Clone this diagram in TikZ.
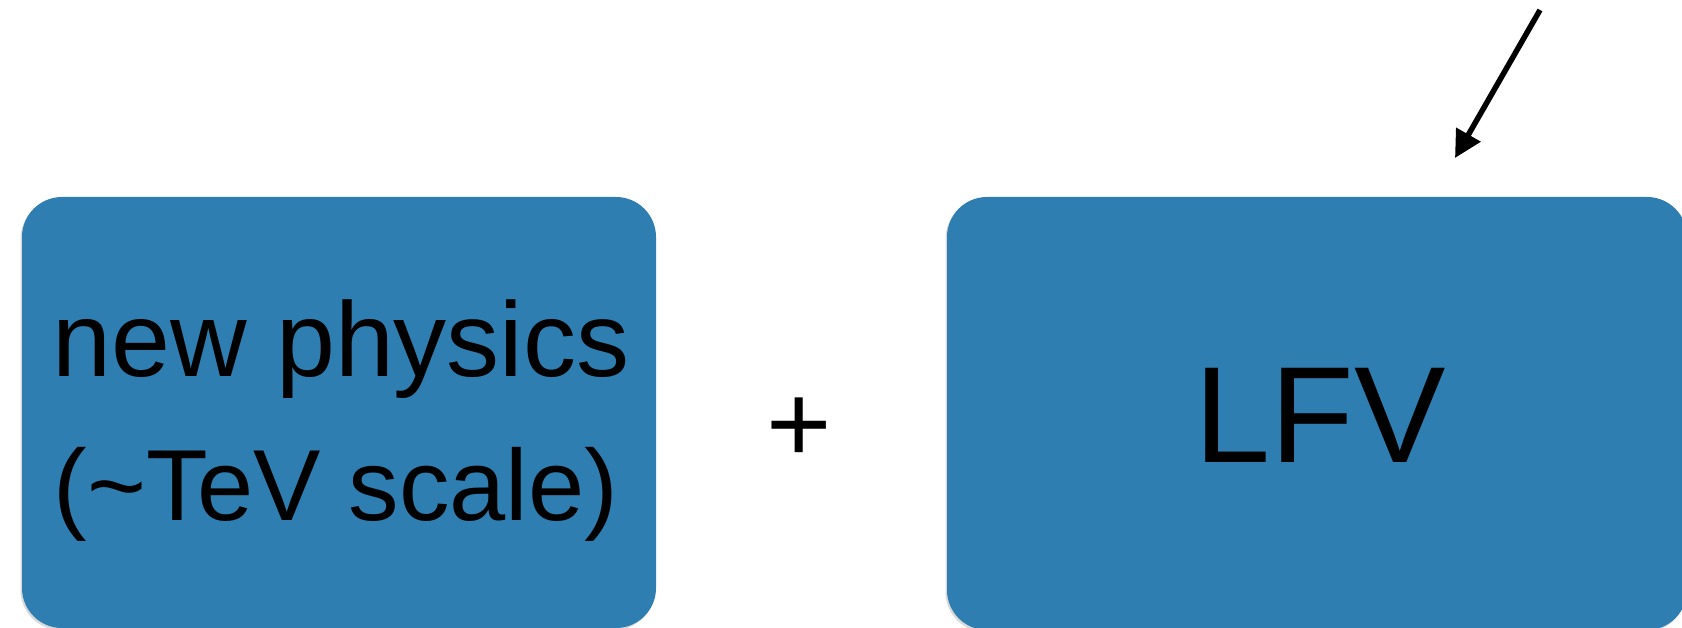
\documentclass[tikz,border=0pt]{standalone}
\usepackage{fontspec}
\setmainfont{Liberation Sans}
\usetikzlibrary{arrows.meta,shadows}
\definecolor{boxblue}{RGB}{47,126,177}
\tikzset{
  bluebox/.style={draw=none, fill=boxblue, rounded corners=40pt, inner sep=0pt,
    drop shadow={opacity=0.3, shadow xshift=-1.5pt, shadow yshift=-2pt, fill=gray}},
  lineone/.style={font=\fontsize{106}{106}\selectfont, inner sep=0pt, anchor=base},
  linetwo/.style={font=\fontsize{101}{101}\selectfont, inner sep=0pt, anchor=base},
  lfvtext/.style={font=\fontsize{137}{137}\selectfont, inner sep=0pt, anchor=base},
  plustext/.style={font=\fontsize{112}{112}\selectfont, inner sep=0pt, anchor=base},
  pointer/.style={line width=5.5pt, -{Triangle[length=27pt,width=27pt]}}
}
\begin{document}
\begin{tikzpicture}[x=1pt,y=-1pt]
\useasboundingbox (0,0) rectangle (1682,628);
\node[bluebox, minimum width=634pt, minimum height=431pt] (np) at (339,412.5) {};
\node[bluebox, minimum width=740pt, minimum height=433pt] (lfv) at (1317,413.5) {};
\node[lineone] (l1) at (341,377) {new physics};
\node[linetwo] (l2) at (336,520) {(\char`\~TeV scale)};
\node[lfvtext] (t3) at (1320,462) {LFV};
\node[plustext] (plus) at (799,462) {+};
\coordinate (a0) at (1540,10);
\coordinate (a1) at (1455,158);
\draw[pointer] (a0) -- (a1);
\end{tikzpicture}
\end{document}
